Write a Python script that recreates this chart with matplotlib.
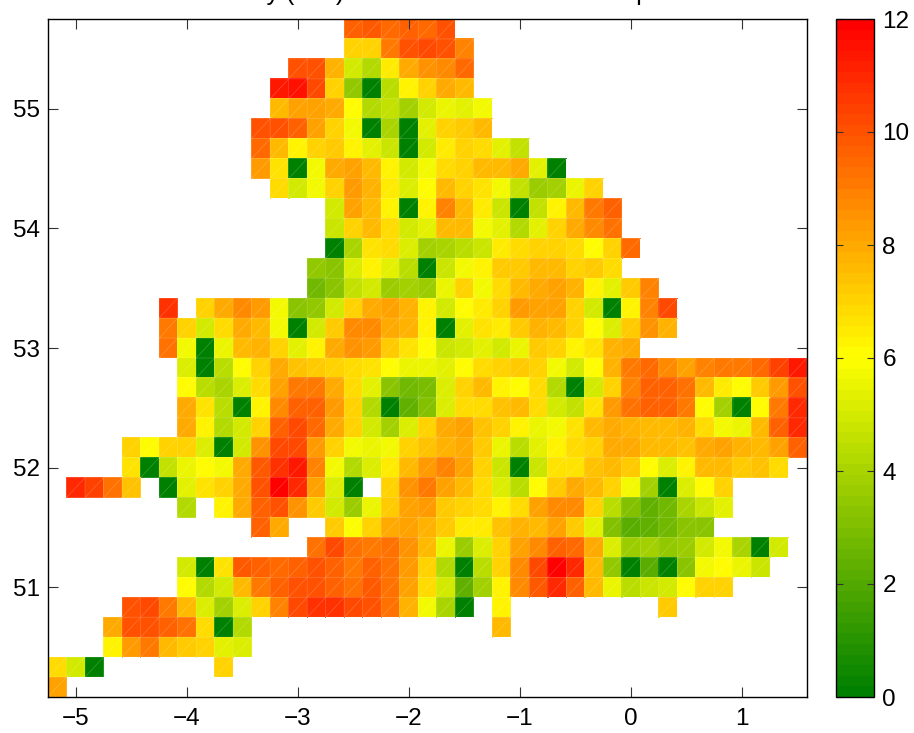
import numpy as np
import matplotlib
matplotlib.use("Agg")
import matplotlib.pyplot as plt
from matplotlib.colors import LinearSegmentedColormap, Normalize
from matplotlib.tri import Triangulation
from matplotlib.cm import ScalarMappable

plt.rcParams['font.family'] = ['Liberation Sans', 'DejaVu Sans']
_ = np.nan

x_ticks = [-5, -4, -3, -2, -1, 0, 1]
y_ticks = [51, 52, 53, 54, 55]
cbar_ticks = [0, 2, 4, 6, 8, 10, 12]
title_text = "Intensity (mm) estimated for the 24 hour period"

# Each row runs west to east; the rows run north to south.
row_00 = [_]*16 + [9.6,9.9,9.4,9.7,9.5,10]
row_01 = [_]*16 + [7,7,9,10,10.2,10,8.9]
row_02 = [_]*13 + [10.1,10.1,7.7,5,4.2,6.4,8,8.6,8.8,9.4]
row_03 = [_]*12 + [11.4,11.5,10.2,7.1,3.4,0,4.4,6.3,7.1,8,7.6]
row_04 = [_]*12 + [7.6,8.1,8.2,7.9,6,4.3,4.6,3.8,5,5.5,5.4,5.7]
row_05 = [_]*11 + [10,10,9.6,8.1,7.1,5.7,0,4,0,5.3,7,7.2,7.6]
row_06 = [_]*11 + [9.4,7.6,6.2,7.1,7.2,6.2,5.3,4.8,0,5,6.4,7,6.9,5.3,4.6]
row_07 = [_]*11 + [8.3,6.7,0,5.8,8,8.2,7.6,6.3,4.9,5.7,6.8,7,7.5,7.6,8,5.3,0]
row_08 = [_]*12 + [6.8,5,5.7,7.1,8.4,7.8,6.4,5.1,6,7.5,7,6.6,5.8,4.5,3.6,3.9,5.6,7]
row_09 = [_]*15 + [5,8.1,7.6,6.2,0,6.2,8.9,7.5,6.4,4.8,0,4.5,6.2,7.6,9,9.7]
row_10 = [_]*15 + [4.7,7.1,7.6,6.8,4.9,5.3,7.6,7.6,5.8,5.3,4.3,5.3,7,8,8.8,9.3]
row_11 = [_]*15 + [0,4,6.6,6.9,5.2,3.9,4.1,4.4,4.8,6.4,6.9,7,7.1,6.9,6,7,9.4]
row_12 = [_]*14 + [3.4,3.2,5.1,6.3,5.3,4.4,0,4.8,5.7,6.2,7.2,7.3,7.5,7.5,7.1,7.3,6.9]
row_13 = [_]*14 + [2.8,3.2,4.5,4.9,3.6,3.8,3.7,5.6,7,5.8,6.8,7.6,7.9,8.1,7.8,6.3,5.3,7.3,8.9]
row_14 = [_]*6 + [10.8,_,7.1,8,8.7,8.4,5.8,3.3,3.4,5,7,7.9,8.1,7.8,6.2,4.9,6.1,6.5,7,8.3,8.2,8.1,7.1,5,0,6.2,8.9,10.2]
row_15 = [_]*6 + [9,7,5,6.9,7.9,7.5,5.8,0,4.9,7.3,8.7,8.7,7.9,7.7,6.2,0,5.3,6.6,6.5,7.2,7.7,7.5,7,6,5.2,7.2,8.6,7.8]
row_16 = [_]*6 + [9.3,5.7,0,5.6,7.6,7.7,7,5.3,6.2,8,8.6,8.4,7.2,6.6,6.1,4.8,5,5.4,5,5.6,7.3,7,6.3,6.6,7.7,8]
row_17 = [_]*7 + [5.2,0,4.4,6.1,7.1,7.9,7.4,7.2,7,6.8,6.6,6,5.5,5.5,5.4,6,6.9,7,7.2,7,5.8,5,6,7.8,9,9.5,8.7,8.2,8.9,9,9.1,9.5,10.4,11.3]
row_18 = [_]*7 + [6.1,4.4,4.1,5.1,6.8,8.1,9,9.1,7.9,6.9,5.4,3.2,2.7,2.9,5.2,7.1,7.5,6.2,6.1,6.8,4.3,0,4.9,7,8.9,9.6,9.6,9.3,7.6,6.4,6,7.2,8.4,10]
row_19 = [_]*7 + [8,6.6,4.4,0,6.2,8.8,9.7,9.6,8.3,7,4.3,0,2.4,3,5.1,6.8,6.8,7.4,7.6,6.9,5,4.5,6.6,8.3,9.3,9.6,9.7,9.1,6.1,3.9,0,6.1,9,10.9]
row_20 = [_]*7 + [7.9,6.3,4.3,4.9,7,9.6,10.3,9.5,7.9,7,5,3.8,5.1,7,8,8.2,7.4,7,6.3,5.6,5.7,6.7,7.5,7.9,7.8,7.6,7.5,7.7,6.8,5.8,5.6,7.5,9.7,11]
row_21 = [_]*4 + [7,6.1,7.1,7.1,5.2,0,4.9,8.6,10.2,10.2,8.4,7,5.8,5.6,5.7,7,7.4,7.7,8,7.3,5.5,4.4,5.3,6.3,6.9,7.1,8,8,7.6,7.5,7.4,7.9,8.1,7.8,7.5,8.1,9.6]
row_22 = [_]*4 + [6.7,0,4.6,5.6,6,5.7,8,9.8,10.8,11.3,8.9,5.8,4.2,5.1,6.5,7.6,8.3,8.9,8.1,7.1,4.7,0,4.7,6.6,6.6,7.4,7.6,7.2,6.1,5.2,6.2,7.6,7.5,7.2,7.4,6.9]
row_23 = [_]*1 + [10.9,10.4,9.2,7.4,_,0,5.3,6.7,7,8,10,12,11,8.2,5.2,0,_,7,8.6,9,8.2,7.6,6.8,5.2,4.4,6,7.2,7.9,7.5,7,5.8,3.9,0,5.2,6.1,7]
row_24 = [_]*7 + [4.3,_,6.2,8,9.6,10,8.6,7.3,5,3.6,5.6,7.3,8.2,8.3,7.3,7,6.9,6.3,6.9,8.1,8.7,8.7,7,4.4,3,2.4,2.8,4.1,4.7,5.3]
row_25 = [_]*11 + [9.6,8,_,_,7.2,5.9,7,8,8.2,7.8,7.2,6.5,6.4,7.4,7.7,7.6,8.1,7.3,5.4,3,2.2,2.4,2.8,3.2,3.3]
row_26 = [_]*14 + [9.3,10.2,9.2,9.1,9.2,8.5,7.6,5.6,3.6,5.1,7,8.1,8.8,9.7,9.5,8,5.2,3.6,3.8,3.5,3.6,5,5.7,4,0,4.9]
row_27 = [_]*7 + [5,0,6.6,9.8,9.6,9.4,9.6,10,9.7,9.1,9.6,9.3,8.4,7,4.3,0,4.4,7,8.8,10.3,12,11,7.6,3.4,0,2.2,0,3.3,5.7,6,5.5,4.8]
row_28 = [_]*7 + [6,4.2,5,7.6,9,9.6,10,10,9.6,9.2,9.8,9.3,8.1,6.9,5,2.4,3.8,6.3,8.7,9.9,10.9,9.7,7.6,5.6,4.4,4.8,5,6,7,7.1]
row_29 = [_]*4 + [10.1,10.2,9,7.6,5.1,3.9,5.2,7,8.9,10.3,10.8,10.8,10.3,10,9.2,7.7,5.7,4,0,_,6.2,_,_,_,_,_,_,_,_,7.2]
row_30 = [_]*3 + [8,10.1,10.1,9.6,9.2,6.8,0,4.3,_,_,_,_,_,_,_,_,_,_,_,_,_,7.6]
row_31 = [_]*3 + [6.3,8.4,9,7.6,7.2,7,5.3,5.1]
row_32 = [6.9,5,0,_,_,_,_,_,_,7.1]
row_33 = [8.1]

rows = [row_00,row_01,row_02,row_03,row_04,row_05,row_06,row_07,row_08,row_09,
        row_10,row_11,row_12,row_13,row_14,row_15,row_16,row_17,row_18,row_19,
        row_20,row_21,row_22,row_23,row_24,row_25,row_26,row_27,row_28,row_29,
        row_30,row_31,row_32,row_33]

n_lon = 41
n_lat = len(rows)
lon_min, cell = -5.25, 1/6
lat_max = 55.75
Z = np.full((n_lat, n_lon), np.nan)
for i, r in enumerate(rows):
    Z[i, :len(r)] = r

cmap = LinearSegmentedColormap.from_list(
    'gyr', [(0, (0, 0.5, 0)), (0.5, (1, 1, 0)), (1, (1, 0, 0))], N=64)
norm = Normalize(0, 12)

W, H = 914, 733
fig = plt.figure(figsize=(W/100, H/100), dpi=100)
ax = fig.add_axes([48/W, 1-697/H, (807-48)/W, (697-19)/H])

# Split every cell in two triangles, which gives the faint seams of the original.
lon_edges = lon_min + cell*np.arange(n_lon+1)
lat_edges = lat_max - cell*np.arange(n_lat+1)
LX, LY = np.meshgrid(lon_edges, lat_edges)
idx = np.arange((n_lat+1)*(n_lon+1)).reshape(n_lat+1, n_lon+1)
tris, vals = [], []
for i in range(n_lat):
    for j in range(n_lon):
        if np.isfinite(Z[i, j]):
            bl, br, tl, tr = idx[i+1, j], idx[i+1, j+1], idx[i, j], idx[i, j+1]
            tris += [[bl, br, tr], [bl, tr, tl]]
            vals += [Z[i, j], Z[i, j]]
tri = Triangulation(LX.ravel(), LY.ravel(), np.array(tris))
ax.tripcolor(tri, facecolors=np.array(vals), cmap=cmap, norm=norm,
             edgecolors='none', shading='flat')
ax.triplot(tri, color='white', alpha=0.22, lw=0.5)

ax.set_xlim(lon_edges[0], lon_edges[-1])
ax.set_ylim(lat_edges[-1], lat_edges[0])
ax.set_xticks(x_ticks)
ax.set_xticklabels([f"\u2212{abs(v)}" if v < 0 else str(v) for v in x_ticks])
ax.set_yticks(y_ticks)
ax.tick_params(direction='in', top=True, right=True, length=7.0, width=0.8,
               labelsize=17.5, pad=6, color='#333333')
ax.tick_params(axis='x', pad=8)
for s in ax.spines.values():
    s.set_linewidth(1.0)

cax = fig.add_axes([836/W, 1-697/H, (874-836)/W, (697-19)/H])
cb = fig.colorbar(ScalarMappable(norm=norm, cmap=cmap), cax=cax)
cb.set_ticks(cbar_ticks)
cax.tick_params(direction='in', left=True, right=True, length=5.0, width=0.8,
                labelsize=17.5, pad=6, color='#333333')
cb.outline.set_linewidth(1.0)

fig.text(186/W, 1+0.5/H, title_text, ha='left', va='baseline', fontsize=18)

fig.savefig('out.png', dpi=100)
